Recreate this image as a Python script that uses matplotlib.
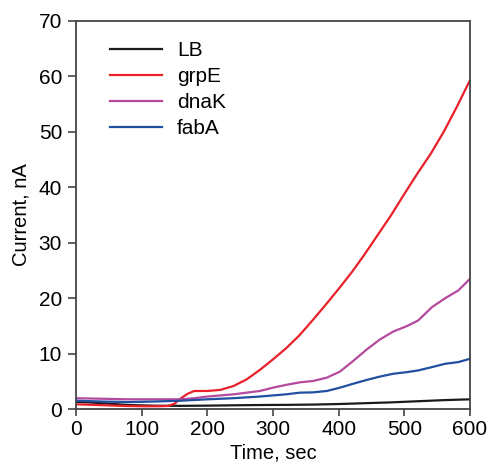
import matplotlib
matplotlib.use("Agg")
import matplotlib.pyplot as plt

plt.rcParams['font.family'] = ['Liberation Sans', 'DejaVu Sans']

# Data
t_lb = [0, 40, 80, 120, 160, 200, 240, 280, 320, 360, 400, 440, 480, 520, 560, 600]
v_lb = [1.37, 1.1, 0.77, 0.65, 0.62, 0.66, 0.72, 0.77, 0.8, 0.85, 0.95, 1.1, 1.25, 1.45, 1.65, 1.8]

t_grpe = [0, 25, 50, 75, 100, 125, 140, 150, 160, 170, 180, 200, 220, 240, 260, 280, 300,
          320, 340, 360, 380, 400, 420, 440, 460, 480, 500, 520, 540, 560, 580, 600]
v_grpe = [0.9, 0.8, 0.7, 0.6, 0.55, 0.55, 0.6, 1.0, 2.0, 2.8, 3.3, 3.3, 3.5, 4.2, 5.4, 7.1, 9.0,
          11.0, 13.3, 16.0, 18.8, 21.7, 24.7, 28.0, 31.5, 35.0, 38.8, 42.5, 46.0, 50.0, 54.5, 59.3]

t_dnak = [0, 40, 80, 120, 160, 180, 200, 220, 240, 260, 280, 300, 320, 341, 361, 382, 402,
          422, 443, 463, 483, 504, 521, 542, 562, 582, 600]
v_dnak = [2.0, 1.9, 1.8, 1.8, 1.8, 2.0, 2.3, 2.5, 2.7, 3.0, 3.3, 3.9, 4.4, 4.86, 5.1, 5.7, 6.8,
          8.7, 10.8, 12.6, 14.0, 15.0, 16.0, 18.4, 20.0, 21.4, 23.5]

t_faba = [0, 40, 80, 120, 160, 200, 240, 280, 300, 320, 341, 361, 382, 402, 422, 443, 463,
          483, 504, 521, 542, 562, 582, 600]
v_faba = [1.55, 1.4, 1.3, 1.4, 1.55, 1.8, 2.0, 2.3, 2.5, 2.7, 3.0, 3.05, 3.3, 3.9, 4.6, 5.3, 5.9,
          6.4, 6.7, 7.0, 7.6, 8.2, 8.5, 9.1]

labels = ['LB', 'grpE', 'dnaK', 'fabA']
colors = ['#1a1a1a', '#e8202a', '#b4499e', '#1f4f9e']

xticks = [0, 100, 200, 300, 400, 500, 600]
yticks = [0, 10, 20, 30, 40, 50, 60, 70]

fig = plt.figure(figsize=(4.89, 4.65), dpi=100)
ax = fig.add_axes([76 / 489, 1 - 409.3 / 465, (470 - 76) / 489, (409.3 - 20.8) / 465])

series = [(t_lb, v_lb), (t_grpe, v_grpe), (t_dnak, v_dnak), (t_faba, v_faba)]
for (t, v), lab, c in zip(series, labels, colors):
    ax.plot(t, v, color=c, lw=1.6, label=lab)

ax.set_xlim(0, 600)
ax.set_ylim(0, 70)
ax.set_xticks(xticks)
ax.set_yticks(yticks)
ax.tick_params(axis='both', labelsize=15, length=5, width=1.2, color='#444444',
               direction='out', pad=3)
ax.tick_params(axis='y', length=6, pad=4)
for s in ax.spines.values():
    s.set_color('#444444')
    s.set_linewidth(1.3)

ax.set_xlabel('Time, sec', fontsize=14.5, labelpad=3)
ax.set_ylabel('Current, nA', fontsize=14.5, labelpad=6)

leg = ax.legend(loc='upper left', bbox_to_anchor=(0.05, 0.985), frameon=False,
                fontsize=15, handlelength=2.5, handletextpad=0.7, labelspacing=0.33,
                borderaxespad=0.3)

fig.savefig('out.png', dpi=100)
